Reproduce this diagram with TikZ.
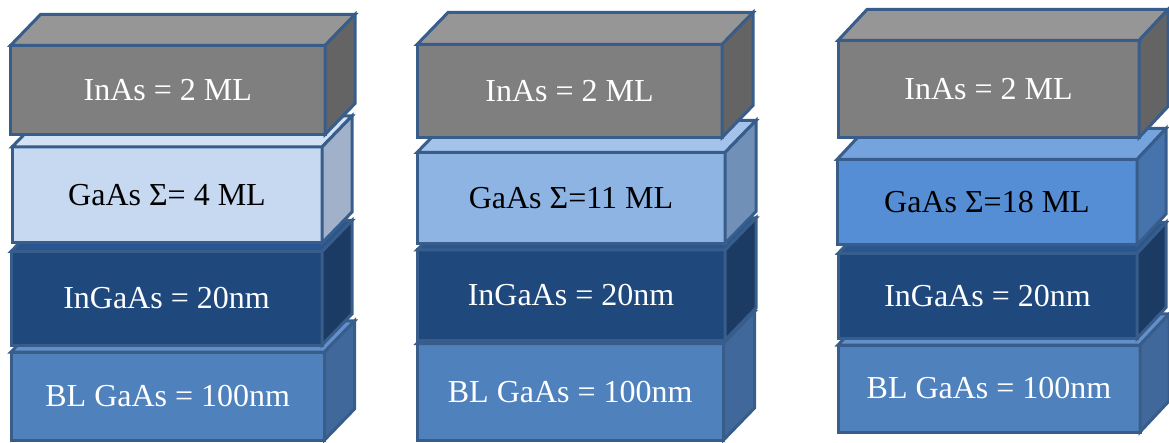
\documentclass[tikz,border=0pt]{standalone}
\usepackage{fontspec}
\setmainfont{Liberation Serif}

% layer colours: F = front face, T = top face, S = side face, X = text
\definecolor{edge}{HTML}{385D8A}
\definecolor{inasF}{HTML}{7F7F7F}\definecolor{inasT}{HTML}{969696}\definecolor{inasS}{HTML}{646464}\definecolor{inasX}{HTML}{FFFFFF}
\definecolor{gaaF}{HTML}{C6D9F1}\definecolor{gaaT}{HTML}{D2E1F4}\definecolor{gaaS}{HTML}{A0B1C9}\definecolor{gaaX}{HTML}{000000}
\definecolor{gabF}{HTML}{8EB4E3}\definecolor{gabT}{HTML}{A3C3EA}\definecolor{gabS}{HTML}{7090B8}\definecolor{gabX}{HTML}{000000}
\definecolor{gacF}{HTML}{558ED5}\definecolor{gacT}{HTML}{75A3DE}\definecolor{gacS}{HTML}{4673AC}\definecolor{gacX}{HTML}{000000}
\definecolor{ingaF}{HTML}{1F497D}\definecolor{ingaT}{HTML}{2A5690}\definecolor{ingaS}{HTML}{1B3B65}\definecolor{ingaX}{HTML}{FFFFFF}
\definecolor{blF}{HTML}{4F81BD}\definecolor{blT}{HTML}{6290CA}\definecolor{blS}{HTML}{41689A}\definecolor{blX}{HTML}{FFFFFF}

\tikzset{
  layer/.style={draw=edge, line width=3pt, outer sep=0pt, inner sep=0pt,
                anchor=north west, font=\fontsize{32}{38}\selectfont},
  face/.style={draw=edge, line width=3pt, line join=miter},
}

% depth of the cuboids (right, up)
\def\dx{30}\def\dy{31}

% \slab{name}{left}{top}{right}{bottom}{material}{label}
\newcommand{\slab}[7]{%
  \node[layer, fill=#6F, text=#6X,
        minimum width={#4pt-#2pt}, minimum height={#5pt-#3pt}] (#1) at (#2,#3) {#7};
  \draw[face, fill=#6T] (#1.north west) -- ([shift={(\dx,-\dy)}]#1.north west)
        -- ([shift={(\dx,-\dy)}]#1.north east) -- (#1.north east) -- cycle;
  \draw[face, fill=#6S] (#1.north east) -- ([shift={(\dx,-\dy)}]#1.north east)
        -- ([shift={(\dx,-\dy)}]#1.south east) -- (#1.south east) -- cycle;
}

\begin{document}
\begin{tikzpicture}[x=1pt, y=-1pt]
  \useasboundingbox (0,0) rectangle (1169,443);

  % left stack
  \def\dx{30}\def\dy{31}
  \slab{blA}{11}{352}{324.5}{440}{bl}{BL GaAs = 100nm}
  \slab{ingaA}{11}{251.5}{322}{345}{inga}{InGaAs = 20nm}
  \slab{gaA}{12}{147}{322}{243}{gaa}{GaAs Σ= 4 ML}
  \slab{inasA}{10.5}{45.5}{325}{134.5}{inas}{InAs = 2 ML}

  % middle stack
  \def\dx{31}\def\dy{32}
  \slab{blB}{417}{343.5}{723.5}{440}{bl}{BL GaAs = 100nm}
  \slab{ingaB}{417}{250}{725}{340}{inga}{InGaAs = 20nm}
  \slab{gaB}{417}{152.5}{725}{243.5}{gab}{GaAs Σ=11 ML}
  \slab{inasB}{417}{44.5}{722}{137.5}{inas}{InAs = 2 ML}

  % right stack
  \def\dx{29}\def\dy{31}
  \slab{blC}{838}{345}{1140}{432}{bl}{BL GaAs = 100nm}
  \slab{ingaC}{838}{253.5}{1137}{338.5}{inga}{InGaAs = 20nm}
  \slab{gaC}{837}{159.5}{1137}{245}{gac}{GaAs Σ=18 ML}
  \slab{inasC}{838}{40.5}{1139}{137.5}{inas}{InAs = 2 ML}
\end{tikzpicture}
\end{document}
